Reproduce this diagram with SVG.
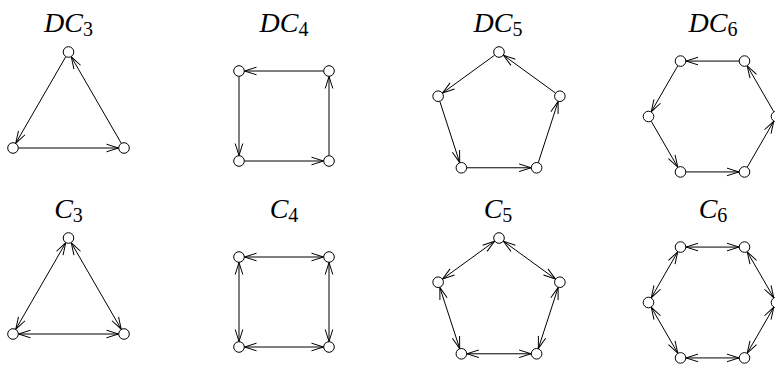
<svg xmlns="http://www.w3.org/2000/svg" width="775" height="365" viewBox="0 0 775 365">
<style>
.n{fill:#fff;stroke:#000;stroke-width:1}
.e{stroke:#000;stroke-width:1;fill:none}
.d{marker-end:url(#ah)}
.b{marker-start:url(#ah);marker-end:url(#ah)}
.lbl{font-family:"Liberation Serif","Times New Roman",serif;font-size:28px;font-style:italic;fill:#000;text-anchor:middle}
.sub{font-size:20px;font-style:normal}
</style>
<defs>
<marker id="ah" markerUnits="userSpaceOnUse" markerWidth="16" markerHeight="12" refX="0" refY="0" viewBox="-13 -6 16 12" orient="auto-start-reverse" overflow="visible">
<path d="M-12,-3.8 L0,0 L-12,3.8" fill="none" stroke="#000" stroke-width="1"/>
</marker>
</defs>
<rect width="775" height="365" fill="#fff"/>
<g id="labels">
<text class="lbl" x="68.5" y="32">DC<tspan class="sub" dy="4">3</tspan></text>
<text class="lbl" x="284" y="32">DC<tspan class="sub" dy="4">4</tspan></text>
<text class="lbl" x="498" y="32">DC<tspan class="sub" dy="4">5</tspan></text>
<text class="lbl" x="713" y="32">DC<tspan class="sub" dy="4">6</tspan></text>
<text class="lbl" x="68.5" y="218">C<tspan class="sub" dy="4">3</tspan></text>
<text class="lbl" x="284" y="218">C<tspan class="sub" dy="4">4</tspan></text>
<text class="lbl" x="498" y="218">C<tspan class="sub" dy="4">5</tspan></text>
<text class="lbl" x="713" y="218">C<tspan class="sub" dy="4">6</tspan></text>
</g>
<g id="connectors">
<line class="e d" x1="65.75" y1="56.76" x2="15.75" y2="143.24"/>
<line class="e d" x1="18.5" y1="148" x2="118.5" y2="148"/>
<line class="e d" x1="121.25" y1="143.24" x2="71.25" y2="56.76"/>
<line class="e d" x1="323.5" y1="71" x2="244.5" y2="71"/>
<line class="e d" x1="239" y1="76.5" x2="239" y2="155.5"/>
<line class="e d" x1="244.5" y1="161" x2="323.5" y2="161"/>
<line class="e d" x1="329" y1="155.5" x2="329" y2="76.5"/>
<line class="e d" x1="494.55" y1="55.23" x2="442.58" y2="92.99"/>
<line class="e d" x1="439.83" y1="101.45" x2="459.68" y2="162.55"/>
<line class="e d" x1="466.88" y1="167.78" x2="531.12" y2="167.78"/>
<line class="e d" x1="538.32" y1="162.55" x2="558.17" y2="101.45"/>
<line class="e d" x1="555.42" y1="92.99" x2="503.45" y2="55.23"/>
<line class="e d" x1="739" y1="61.07" x2="686" y2="61.07"/>
<line class="e d" x1="677.75" y1="65.83" x2="651.25" y2="111.74"/>
<line class="e d" x1="651.25" y1="121.26" x2="677.75" y2="167.17"/>
<line class="e d" x1="686" y1="171.93" x2="739" y2="171.93"/>
<line class="e d" x1="747.25" y1="167.17" x2="773.75" y2="121.26"/>
<line class="e d" x1="773.75" y1="111.74" x2="747.25" y2="65.83"/>
<line class="e b" x1="65.75" y1="242.76" x2="15.75" y2="329.24"/>
<line class="e b" x1="18.5" y1="334" x2="118.5" y2="334"/>
<line class="e b" x1="121.25" y1="329.24" x2="71.25" y2="242.76"/>
<line class="e b" x1="244.5" y1="257" x2="323.5" y2="257"/>
<line class="e b" x1="239" y1="262.5" x2="239" y2="341.5"/>
<line class="e b" x1="244.5" y1="347" x2="323.5" y2="347"/>
<line class="e b" x1="329" y1="262.5" x2="329" y2="341.5"/>
<line class="e b" x1="494.55" y1="241.23" x2="442.58" y2="278.99"/>
<line class="e b" x1="439.83" y1="287.45" x2="459.68" y2="348.55"/>
<line class="e b" x1="466.88" y1="353.78" x2="531.12" y2="353.78"/>
<line class="e b" x1="538.32" y1="348.55" x2="558.17" y2="287.45"/>
<line class="e b" x1="555.42" y1="278.99" x2="503.45" y2="241.23"/>
<line class="e b" x1="739" y1="247.07" x2="686" y2="247.07"/>
<line class="e b" x1="677.75" y1="251.83" x2="651.25" y2="297.74"/>
<line class="e b" x1="651.25" y1="307.26" x2="677.75" y2="353.17"/>
<line class="e b" x1="686" y1="357.93" x2="739" y2="357.93"/>
<line class="e b" x1="747.25" y1="353.17" x2="773.75" y2="307.26"/>
<line class="e b" x1="773.75" y1="297.74" x2="747.25" y2="251.83"/>
</g>
<g id="dc3-a"><circle class="n" cx="68.5" cy="52" r="5.3"/></g>
<g id="dc3-b"><circle class="n" cx="13" cy="148" r="5.3"/></g>
<g id="dc3-c"><circle class="n" cx="124" cy="148" r="5.3"/></g>
<g id="dc4-a"><circle class="n" cx="239" cy="71" r="5.3"/></g>
<g id="dc4-b"><circle class="n" cx="329" cy="71" r="5.3"/></g>
<g id="dc4-c"><circle class="n" cx="239" cy="161" r="5.3"/></g>
<g id="dc4-d"><circle class="n" cx="329" cy="161" r="5.3"/></g>
<g id="dc5-a"><circle class="n" cx="499" cy="52" r="5.3"/></g>
<g id="dc5-b"><circle class="n" cx="438.13" cy="96.22" r="5.3"/></g>
<g id="dc5-c"><circle class="n" cx="559.87" cy="96.22" r="5.3"/></g>
<g id="dc5-d"><circle class="n" cx="461.38" cy="167.78" r="5.3"/></g>
<g id="dc5-e"><circle class="n" cx="536.62" cy="167.78" r="5.3"/></g>
<g id="dc6-a"><circle class="n" cx="680.5" cy="61.07" r="5.3"/></g>
<g id="dc6-b"><circle class="n" cx="744.5" cy="61.07" r="5.3"/></g>
<g id="dc6-c"><circle class="n" cx="776.5" cy="116.5" r="5.3"/></g>
<g id="dc6-d"><circle class="n" cx="744.5" cy="171.93" r="5.3"/></g>
<g id="dc6-e"><circle class="n" cx="680.5" cy="171.93" r="5.3"/></g>
<g id="dc6-f"><circle class="n" cx="648.5" cy="116.5" r="5.3"/></g>
<g id="c3-a"><circle class="n" cx="68.5" cy="238" r="5.3"/></g>
<g id="c3-b"><circle class="n" cx="13" cy="334" r="5.3"/></g>
<g id="c3-c"><circle class="n" cx="124" cy="334" r="5.3"/></g>
<g id="c4-a"><circle class="n" cx="239" cy="257" r="5.3"/></g>
<g id="c4-b"><circle class="n" cx="329" cy="257" r="5.3"/></g>
<g id="c4-c"><circle class="n" cx="239" cy="347" r="5.3"/></g>
<g id="c4-d"><circle class="n" cx="329" cy="347" r="5.3"/></g>
<g id="c5-a"><circle class="n" cx="499" cy="238" r="5.3"/></g>
<g id="c5-b"><circle class="n" cx="438.13" cy="282.22" r="5.3"/></g>
<g id="c5-c"><circle class="n" cx="559.87" cy="282.22" r="5.3"/></g>
<g id="c5-d"><circle class="n" cx="461.38" cy="353.78" r="5.3"/></g>
<g id="c5-e"><circle class="n" cx="536.62" cy="353.78" r="5.3"/></g>
<g id="c6-a"><circle class="n" cx="680.5" cy="247.07" r="5.3"/></g>
<g id="c6-b"><circle class="n" cx="744.5" cy="247.07" r="5.3"/></g>
<g id="c6-c"><circle class="n" cx="776.5" cy="302.5" r="5.3"/></g>
<g id="c6-d"><circle class="n" cx="744.5" cy="357.93" r="5.3"/></g>
<g id="c6-e"><circle class="n" cx="680.5" cy="357.93" r="5.3"/></g>
<g id="c6-f"><circle class="n" cx="648.5" cy="302.5" r="5.3"/></g>
</svg>
